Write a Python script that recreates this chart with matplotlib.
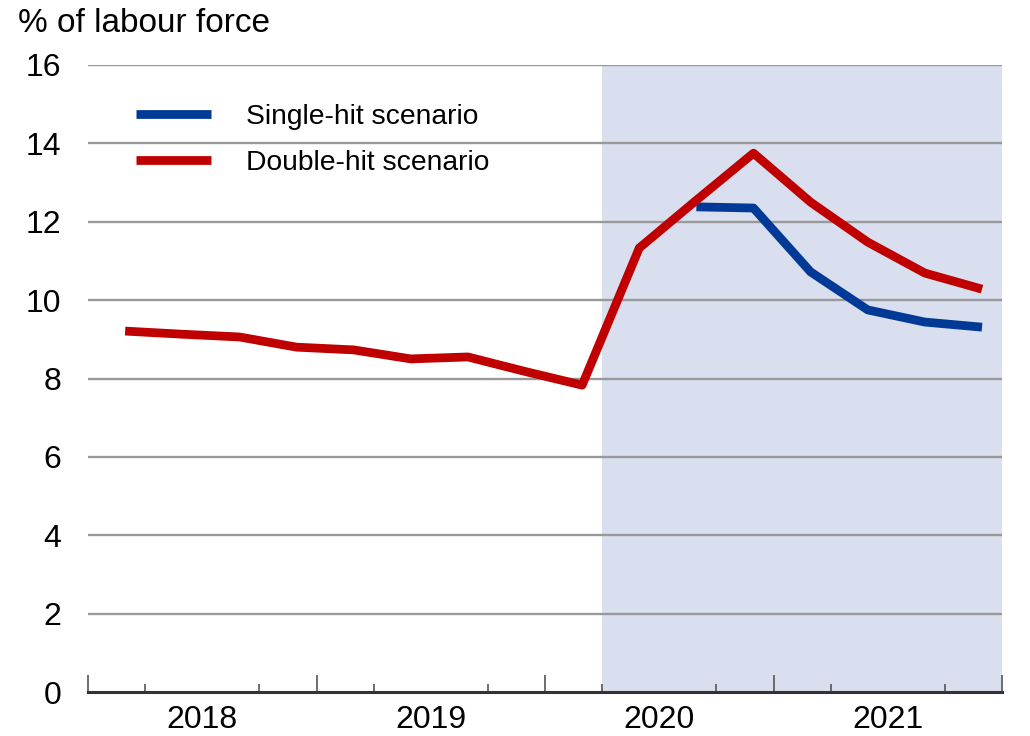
import matplotlib
matplotlib.use("Agg")
import matplotlib.pyplot as plt
import numpy as np

plt.rcParams['font.family'] = ['Liberation Sans', 'DejaVu Sans']

# Quarterly data 2018Q1 .. 2021Q4
years = ["2018", "2019", "2020", "2021"]
double_hit = [9.21, 9.13, 9.06, 8.80, 8.73, 8.50, 8.55, 8.18, 7.83,
              11.33, 12.55, 13.75, 12.50, 11.48, 10.69, 10.28]
single_hit = [None] * 10 + [12.38, 12.35, 10.72, 9.75, 9.44, 9.31]
yticks = [0, 2, 4, 6, 8, 10, 12, 14, 16]

n = len(double_hit)
x = np.arange(n) + 0.65
single = np.array([np.nan if v is None else v for v in single_hit], dtype=float)

RED = "#C00000"
BLUE = "#003A96"
SHADE = "#D9DFEE"
GRID = "#999999"

fig = plt.figure(figsize=(10.30, 7.36), dpi=100)
ax = fig.add_axes([88/1030, 1-692/736, (1002-88)/1030, (692-65)/736])

ax.axvspan(9, 16, color=SHADE, zorder=0, lw=0)
for yv in yticks[1:]:
    ax.axhline(yv, color=GRID, lw=1.7, zorder=1)

ax.plot(x, single, color=BLUE, lw=6.3, solid_capstyle='butt', zorder=3, label="Single-hit scenario")
ax.plot(x, double_hit, color=RED, lw=6.3, solid_capstyle='butt', zorder=4, label="Double-hit scenario")

ax.set_xlim(0, 16)
ax.set_ylim(0, 16)
ax.set_yticks(yticks)
ax.set_yticklabels([str(v) for v in yticks])
ax.tick_params(axis='y', length=0, pad=19, labelsize=23)

for s in ['top', 'right', 'left']:
    ax.spines[s].set_visible(False)
ax.spines['bottom'].set_color('#333333')
ax.spines['bottom'].set_linewidth(2.2)
ax.spines['bottom'].set_zorder(5)

# year labels at centres, quarter ticks short, year boundaries long
ax.set_xticks([2, 6, 10, 14])
ax.set_xticklabels(years)
ax.tick_params(axis='x', which='major', length=0, pad=9, labelsize=23)
ax.set_xticks([q for q in range(17) if q % 4 != 0], minor=True)
ax.tick_params(axis='x', which='minor', direction='in', length=6, width=1.2, color='#555555')

sec = ax.secondary_xaxis('bottom')
sec.set_xticks([0, 4, 8, 12, 16])
sec.set_xticklabels([])
sec.tick_params(direction='in', length=12, width=1.2, color='#555555')
sec.spines['bottom'].set_visible(False)

fig.text(18/1030, 1-24/736, "% of labour force", fontsize=24, ha='left', va='center')

ax.legend(loc='upper left', bbox_to_anchor=(136/1030, 1-104/736), bbox_transform=fig.transFigure,
          frameon=False, fontsize=20.3, handlelength=2.65, handletextpad=1.25,
          labelspacing=0.72, borderpad=0, borderaxespad=0)

fig.savefig("out.png", dpi=100)
